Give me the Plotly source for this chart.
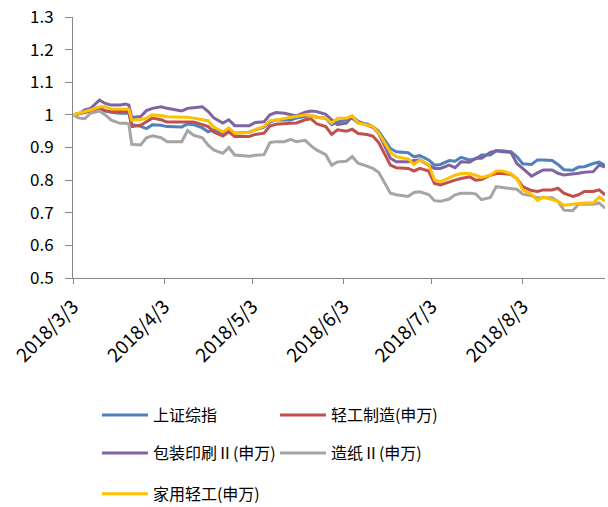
import plotly.graph_objects as go

dates = [
    "2018-03-03", "2018-03-05", "2018-03-07", "2018-03-09", "2018-03-12", "2018-03-14", "2018-03-16",
    "2018-03-19", "2018-03-21", "2018-03-22", "2018-03-23", "2018-03-26", "2018-03-28", "2018-03-30",
    "2018-04-02", "2018-04-04", "2018-04-09", "2018-04-11", "2018-04-13", "2018-04-16", "2018-04-18",
    "2018-04-20", "2018-04-23", "2018-04-25", "2018-04-27", "2018-05-02", "2018-05-04", "2018-05-07",
    "2018-05-09", "2018-05-11", "2018-05-14", "2018-05-16", "2018-05-18", "2018-05-21", "2018-05-23",
    "2018-05-25", "2018-05-28", "2018-05-30", "2018-06-01", "2018-06-04", "2018-06-06", "2018-06-08",
    "2018-06-11", "2018-06-13", "2018-06-15", "2018-06-19", "2018-06-21", "2018-06-25", "2018-06-27",
    "2018-06-29", "2018-07-02", "2018-07-04", "2018-07-06", "2018-07-09", "2018-07-11", "2018-07-13",
    "2018-07-16", "2018-07-18", "2018-07-20", "2018-07-23", "2018-07-25", "2018-07-27", "2018-07-30",
    "2018-08-01", "2018-08-03", "2018-08-06", "2018-08-08", "2018-08-10", "2018-08-13", "2018-08-15",
    "2018-08-17", "2018-08-20", "2018-08-22", "2018-08-24", "2018-08-27", "2018-08-29", "2018-08-31",
]

sse = [
    1.0, 1.005, 1.008, 1.012, 1.02, 1.012, 1.008,
    1.005, 1.005, 1.005, 0.97, 0.965, 0.958, 0.97,
    0.968, 0.964, 0.963, 0.972, 0.97, 0.96, 0.948,
    0.955, 0.944, 0.958, 0.944, 0.947, 0.954, 0.962,
    0.978, 0.984, 0.984, 0.984, 0.99, 0.995, 0.998,
    0.993, 0.99, 0.97, 0.978, 0.985, 0.99, 0.975,
    0.972, 0.964, 0.95, 0.897, 0.887, 0.884, 0.872,
    0.875, 0.862, 0.846, 0.848, 0.86, 0.858, 0.87,
    0.862, 0.865, 0.877, 0.877, 0.89, 0.89, 0.887,
    0.872, 0.85, 0.848, 0.862, 0.862, 0.86, 0.848,
    0.832, 0.83, 0.84, 0.841, 0.851, 0.855, 0.845,
]

light_ind = [
    1.0, 1.003, 1.008, 1.012, 1.02, 1.013, 1.01,
    1.01, 1.012, 1.01, 0.964, 0.968, 0.978, 0.99,
    0.985, 0.978, 0.978, 0.978, 0.978, 0.97, 0.964,
    0.947, 0.935, 0.948, 0.934, 0.934, 0.94, 0.944,
    0.966, 0.971, 0.974, 0.974, 0.975, 0.985, 0.988,
    0.972, 0.964, 0.94, 0.954, 0.95, 0.956, 0.943,
    0.94, 0.935, 0.915, 0.846, 0.838, 0.836, 0.828,
    0.836, 0.828, 0.79, 0.785, 0.795, 0.8, 0.805,
    0.81, 0.8, 0.802, 0.815, 0.82, 0.82, 0.818,
    0.805, 0.78, 0.768, 0.765, 0.77, 0.77, 0.775,
    0.76, 0.75, 0.755, 0.765, 0.765, 0.77, 0.755,
]

packaging = [
    1.0, 1.003, 1.015, 1.02, 1.045, 1.035, 1.03,
    1.03, 1.033, 1.03, 0.992, 0.995, 1.013, 1.02,
    1.025, 1.02, 1.012, 1.02, 1.022, 1.025, 1.01,
    0.99, 0.975, 0.985, 0.967, 0.967, 0.977, 0.979,
    1.0, 1.007, 1.005, 1.0, 0.997, 1.008, 1.012,
    1.01, 1.002, 0.985, 0.97, 0.975, 0.995, 0.98,
    0.969, 0.962, 0.943, 0.867, 0.856, 0.856, 0.86,
    0.862, 0.846, 0.836, 0.836, 0.846, 0.838, 0.856,
    0.855, 0.867, 0.867, 0.885, 0.89, 0.887, 0.885,
    0.851, 0.836, 0.812, 0.822, 0.831, 0.831, 0.821,
    0.816, 0.818, 0.821, 0.824, 0.826, 0.846, 0.84,
]

paper = [
    1.0, 0.99, 0.988, 1.005, 1.012, 1.0, 0.984,
    0.974, 0.974, 0.972, 0.91, 0.908, 0.93, 0.936,
    0.93, 0.918, 0.918, 0.952, 0.938, 0.93, 0.907,
    0.892, 0.882, 0.9, 0.877, 0.873, 0.876, 0.878,
    0.915, 0.918, 0.918, 0.925, 0.918, 0.922, 0.905,
    0.892, 0.878, 0.846, 0.856, 0.858, 0.872, 0.852,
    0.843, 0.836, 0.824, 0.76, 0.755, 0.75, 0.762,
    0.764, 0.756, 0.737, 0.735, 0.742, 0.755, 0.76,
    0.76, 0.758, 0.74, 0.747, 0.78, 0.777, 0.774,
    0.772, 0.757, 0.752, 0.746, 0.746, 0.746, 0.735,
    0.708, 0.706, 0.726, 0.726, 0.726, 0.73, 0.714,
]

household = [
    1.0, 1.005, 1.01, 1.015, 1.025, 1.025, 1.018,
    1.017, 1.017, 1.017, 0.984, 0.985, 0.99, 1.0,
    0.998, 0.994, 0.993, 0.993, 0.99, 0.984, 0.982,
    0.962, 0.948, 0.96, 0.944, 0.946, 0.955, 0.965,
    0.982, 0.984, 0.99, 0.993, 0.995, 1.0, 0.998,
    0.992, 0.99, 0.975, 0.99, 0.99, 0.997, 0.975,
    0.969, 0.964, 0.945, 0.885, 0.872, 0.865, 0.848,
    0.862, 0.848, 0.8, 0.795, 0.808, 0.815, 0.82,
    0.82, 0.815, 0.808, 0.815, 0.828, 0.828, 0.82,
    0.805, 0.77, 0.757, 0.738, 0.748, 0.74, 0.735,
    0.723, 0.726, 0.73, 0.73, 0.73, 0.748, 0.735,
]

series_names = ["上证综指", "轻工制造(申万)", "包装印刷Ⅱ(申万)", "造纸Ⅱ(申万)", "家用轻工(申万)"]
series_values = [sse, light_ind, packaging, paper, household]
series_colors = ["#4F81BD", "#C0504D", "#8064A2", "#A5A5A5", "#FFC000"]
legend_ids = ["legend", "legend", "legend2", "legend2", "legend3"]

tick_dates = ["2018-03-03", "2018-04-03", "2018-05-03", "2018-06-03", "2018-07-03", "2018-08-03"]
tick_labels = ["2018/3/3", "2018/4/3", "2018/5/3", "2018/6/3", "2018/7/3", "2018/8/3"]
y_ticks = [0.5, 0.6, 0.7, 0.8, 0.9, 1.0, 1.1, 1.2, 1.3]
y_labels = ["0.5", "0.6", "0.7", "0.8", "0.9", "1", "1.1", "1.2", "1.3"]

FONT = "Noto Sans CJK SC"

fig = go.Figure()
for name, vals, col, lg in zip(series_names, series_values, series_colors, legend_ids):
    fig.add_trace(go.Scatter(
        x=dates, y=vals, name=name, mode="lines",
        line=dict(color=col, width=3), legend=lg,
    ))

axis_col = "#868686"
fig.update_xaxes(
    type="date", range=["2018-03-03", "2018-08-31"],
    tickmode="array", tickvals=tick_dates, ticktext=tick_labels,
    tickangle=-45, ticks="outside", ticklen=5, tickcolor=axis_col,
    showline=True, linecolor=axis_col, linewidth=1,
    showgrid=False, zeroline=False, ticklabelstandoff=4,
    tickfont=dict(family=FONT, size=19, color="#000000"),
)
fig.update_yaxes(
    range=[0.5, 1.3], tickmode="array", tickvals=y_ticks, ticktext=y_labels,
    ticks="outside", ticklen=7, tickcolor=axis_col,
    showline=True, linecolor=axis_col, linewidth=1,
    showgrid=False, zeroline=False, ticklabelstandoff=8,
    tickfont=dict(family=FONT, size=17, color="#000000"),
)

leg_common = dict(
    orientation="h", xanchor="left", yanchor="middle", x=0.045,
    entrywidth=117, entrywidthmode="pixels", itemwidth=46,
    font=dict(family=FONT, size=16, color="#000000"),
    bgcolor="rgba(0,0,0,0)", traceorder="normal",
)
fig.update_layout(
    width=608, height=507,
    margin=dict(l=73, r=3, t=17, b=229, autoexpand=False),
    plot_bgcolor="white", paper_bgcolor="white",
    font=dict(family=FONT, size=16, color="#000000"),
    legend=dict(y=-0.525, **leg_common),
    legend2=dict(y=-0.671, **leg_common),
    legend3=dict(y=-0.827, **leg_common),
)

fig.write_html("out.html")
